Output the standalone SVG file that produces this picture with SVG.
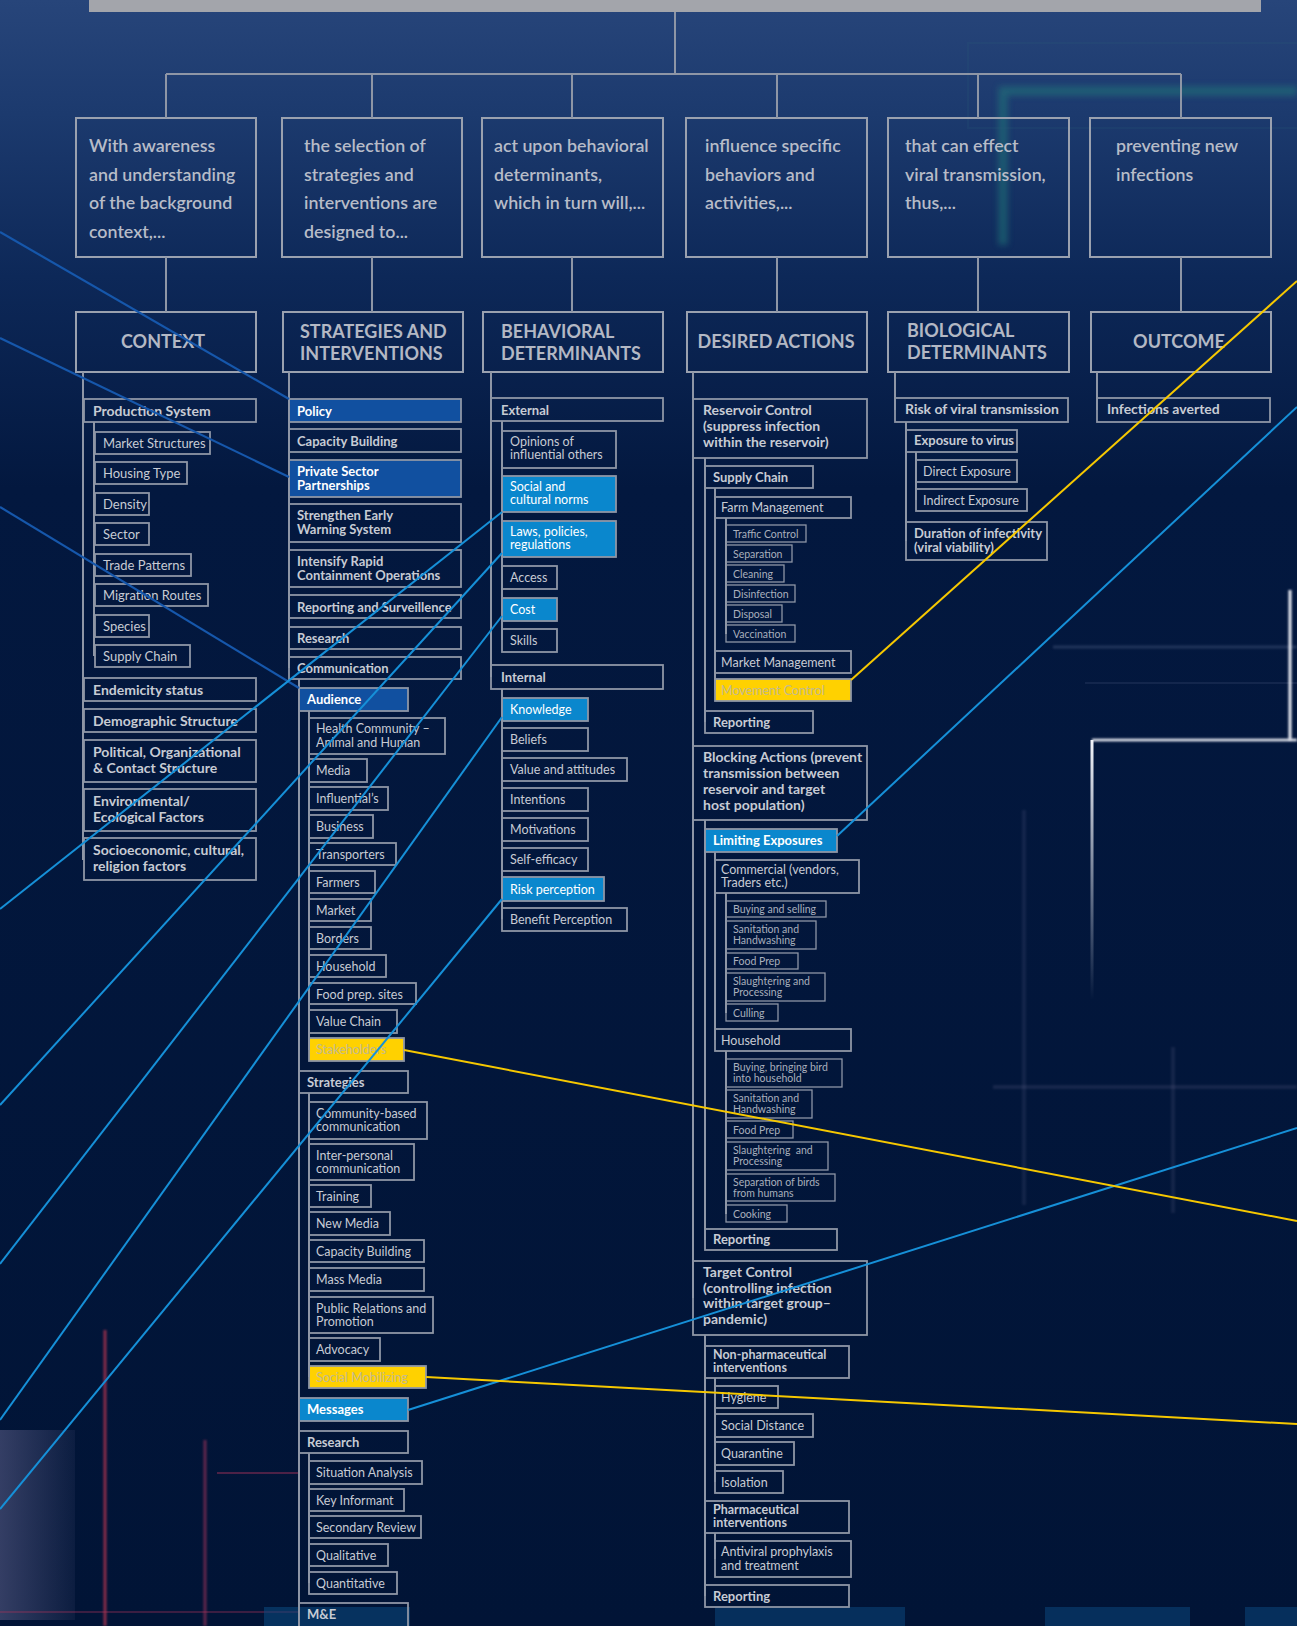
<svg xmlns="http://www.w3.org/2000/svg" width="1297" height="1626" viewBox="0 0 1297 1626">
<defs>
<linearGradient id="bg" x1="0" y1="0" x2="0" y2="1">
<stop offset="0" stop-color="#27457a"/>
<stop offset="0.07" stop-color="#1c3a6e"/>
<stop offset="0.17" stop-color="#0d2858"/>
<stop offset="0.3" stop-color="#03183f"/>
<stop offset="1" stop-color="#011436"/>
</linearGradient>
<linearGradient id="fadeV" x1="0" y1="0" x2="0" y2="1">
<stop offset="0" stop-color="#f2f4fa" stop-opacity="1"/>
<stop offset="1" stop-color="#f2f4fa" stop-opacity="0"/>
</linearGradient>
<linearGradient id="blockG" x1="0" y1="0" x2="1" y2="0">
<stop offset="0" stop-color="#4a5078" stop-opacity="0.7"/>
<stop offset="1" stop-color="#4a5078" stop-opacity="0.15"/>
</linearGradient>
<filter id="blur" filterUnits="userSpaceOnUse" x="0" y="0" width="1297" height="1626"><feGaussianBlur stdDeviation="3"/></filter>
<filter id="blur1" filterUnits="userSpaceOnUse" x="0" y="0" width="1297" height="1626"><feGaussianBlur stdDeviation="1.2"/></filter>
<style>
text{font-family:Lato,"Open Sans","DejaVu Sans",sans-serif;fill:#c7cbd4}
.hb{fill:none;stroke:#9aa1af;stroke-width:2}
.bx{fill:none;stroke:#8e96a6;stroke-width:1.8}
.sm{fill:none;stroke:#8e96a6;stroke-width:1.3}
.db{fill:#1150a0;stroke:#8e96a6;stroke-width:1.8}
.lb{fill:#0a87cd;stroke:#8e96a6;stroke-width:1.8}
.yl{fill:#ffd100;stroke:#8e96a6;stroke-width:1.8}
.hd{font-size:17.8px;font-weight:600;fill:#b7bcc8}
.ti{font-size:18px;font-weight:700;fill:#b3b8c4}
.b{font-size:14px;font-weight:700}
.b13{font-size:13px;font-weight:700}
.b12{font-size:12.5px;font-weight:700}
.r{font-size:13px}
.r12{font-size:12.5px}
.s{font-size:10.5px;fill:#a9afbc}
.w{fill:#ffffff}
.yt{fill:#c2b98f}
.tr{fill:none;stroke:#8e96a6;stroke-width:2}
.cd{stroke:#1657ab;stroke-width:2.2;fill:none}
.cl{stroke:#1690d8;stroke-width:2;fill:none}
.cy{stroke:#f6c800;stroke-width:2;fill:none}
</style>
</defs>

<g id="background">
<rect x="0" y="0" width="1297" height="1626" fill="url(#bg)"/>
<path d="M1297,91 H1003 V245" stroke="#237a7c" stroke-width="9" fill="none" opacity="0.55" filter="url(#blur)"/>
<path d="M1297,43 H968 V128 H1297" stroke="#2a5a7a" stroke-width="2" fill="none" opacity="0.2"/>
<path d="M1053,647 H1297" stroke="#5a6a90" stroke-width="3" opacity="0.35" filter="url(#blur1)"/>
<path d="M1085,683 H1297" stroke="#3a4a70" stroke-width="2" opacity="0.3"/>
<path d="M1290,590 V740" stroke="#eef0f8" stroke-width="3" filter="url(#blur1)"/>
<path d="M1297,740 H1092" stroke="#eef0f8" stroke-width="2.5" filter="url(#blur1)"/>
<rect x="1090.5" y="740" width="3" height="260" fill="url(#fadeV)"/>
<path d="M1024,810 V1205" stroke="#5a6088" stroke-width="4" opacity="0.2" filter="url(#blur1)"/>
<path d="M993,1087 H1297" stroke="#6a6a90" stroke-width="4" opacity="0.2" filter="url(#blur1)"/>
<path d="M1173,1047 V1213" stroke="#6a6a90" stroke-width="4" opacity="0.18" filter="url(#blur1)"/>
<rect x="0" y="1430" width="75" height="190" fill="url(#blockG)"/>
<path d="M105,1330 V1626" stroke="#d03a55" stroke-width="3" opacity="0.65" filter="url(#blur1)"/>
<path d="M205,1440 V1626" stroke="#b0365e" stroke-width="3" opacity="0.55" filter="url(#blur1)"/>
<path d="M217,1473 H300" stroke="#a8325a" stroke-width="2" opacity="0.45"/>
<path d="M0,1612 H300" stroke="#a8325a" stroke-width="2" opacity="0.35"/>
<rect x="264" y="1607" width="146" height="19" fill="#0b4a82" opacity="0.55"/>
<rect x="715" y="1607" width="190" height="19" fill="#0b4a82" opacity="0.5"/>
<rect x="1045" y="1607" width="145" height="19" fill="#0b4a82" opacity="0.5"/>
<rect x="1245" y="1607" width="52" height="19" fill="#0b4a82" opacity="0.5"/>
<rect x="89" y="0" width="1172" height="12" fill="#a3a5ab"/>
</g>

<g id="nodes">
<!-- header boxes -->
<g id="head-context"><rect class="hb" x="76" y="118" width="180" height="139"/><text class="hd" x="89" y="152">With awareness<tspan x="89" dy="28.5">and understanding</tspan><tspan x="89" dy="28.5">of the background</tspan><tspan x="89" dy="28.5">context,...</tspan></text></g>
<g id="head-strategies"><rect class="hb" x="282" y="118" width="180" height="139"/><text class="hd" x="304" y="152">the selection of<tspan x="304" dy="28.5">strategies and</tspan><tspan x="304" dy="28.5">interventions are</tspan><tspan x="304" dy="28.5">designed to...</tspan></text></g>
<g id="head-behavioral"><rect class="hb" x="482" y="118" width="181" height="139"/><text class="hd" x="494" y="152">act upon behavioral<tspan x="494" dy="28.5">determinants,</tspan><tspan x="494" dy="28.5">which in turn will,...</tspan></text></g>
<g id="head-actions"><rect class="hb" x="686" y="118" width="181" height="139"/><text class="hd" x="705" y="152">influence specific<tspan x="705" dy="28.5">behaviors and</tspan><tspan x="705" dy="28.5">activities,...</tspan></text></g>
<g id="head-biological"><rect class="hb" x="888" y="118" width="181" height="139"/><text class="hd" x="905" y="152">that can effect<tspan x="905" dy="28.5">viral transmission,</tspan><tspan x="905" dy="28.5">thus,...</tspan></text></g>
<g id="head-outcome"><rect class="hb" x="1090" y="118" width="181" height="139"/><text class="hd" x="1116" y="152">preventing new<tspan x="1116" dy="28.5">infections</tspan></text></g>

<!-- category boxes -->
<g id="cat-context"><rect class="hb" x="76" y="312" width="180" height="60"/><text class="ti" x="163" y="348" text-anchor="middle">CONTEXT</text></g>
<g id="cat-strategies"><rect class="hb" x="283" y="312" width="180" height="60"/><text class="ti" x="300" y="338">STRATEGIES AND<tspan x="300" dy="22">INTERVENTIONS</tspan></text></g>
<g id="cat-behavioral"><rect class="hb" x="483" y="312" width="180" height="60"/><text class="ti" x="501" y="338">BEHAVIORAL<tspan x="501" dy="22">DETERMINANTS</tspan></text></g>
<g id="cat-actions"><rect class="hb" x="687" y="312" width="180" height="60"/><text class="ti" x="776" y="348" text-anchor="middle">DESIRED ACTIONS</text></g>
<g id="cat-biological"><rect class="hb" x="888" y="312" width="181" height="60"/><text class="ti" x="907" y="337">BIOLOGICAL<tspan x="907" dy="22">DETERMINANTS</tspan></text></g>
<g id="cat-outcome"><rect class="hb" x="1091" y="312" width="180" height="60"/><text class="ti" x="1179" y="348" text-anchor="middle">OUTCOME</text></g>

<!-- column 1 -->
<g id="ctx-production"><rect class="bx" x="84" y="399" width="172" height="23"/><text class="b" x="93" y="415.5">Production System</text></g>
<g id="ctx-market"><rect class="bx" x="95" y="432" width="115" height="22"/><text class="r" x="103" y="447.5">Market Structures</text></g>
<g id="ctx-housing"><rect class="bx" x="95" y="462" width="92" height="22"/><text class="r" x="103" y="477.5">Housing Type</text></g>
<g id="ctx-density"><rect class="bx" x="95" y="493" width="54" height="22"/><text class="r" x="103" y="508.5">Density</text></g>
<g id="ctx-sector"><rect class="bx" x="95" y="523" width="54" height="22"/><text class="r" x="103" y="538.5">Sector</text></g>
<g id="ctx-trade"><rect class="bx" x="95" y="554" width="96" height="22"/><text class="r" x="103" y="569.5">Trade Patterns</text></g>
<g id="ctx-migration"><rect class="bx" x="95" y="584" width="113" height="22"/><text class="r" x="103" y="599.5">Migration Routes</text></g>
<g id="ctx-species"><rect class="bx" x="95" y="615" width="54" height="22"/><text class="r" x="103" y="630.5">Species</text></g>
<g id="ctx-supply"><rect class="bx" x="95" y="645" width="95" height="22"/><text class="r" x="103" y="660.5">Supply Chain</text></g>
<g id="ctx-endemicity"><rect class="bx" x="84" y="678" width="172" height="23"/><text class="b" x="93" y="694.5">Endemicity status</text></g>
<g id="ctx-demographic"><rect class="bx" x="84" y="709" width="172" height="23"/><text class="b" x="93" y="725.5">Demographic Structure</text></g>
<g id="ctx-political"><rect class="bx" x="84" y="740" width="172" height="42"/><text class="b" x="93" y="757">Political, Organizational<tspan x="93" dy="16">&amp; Contact Structure</tspan></text></g>
<g id="ctx-environmental"><rect class="bx" x="84" y="789" width="172" height="42"/><text class="b" x="93" y="806">Environmental/<tspan x="93" dy="16">Ecological Factors</tspan></text></g>
<g id="ctx-socio"><rect class="bx" x="84" y="838" width="172" height="42"/><text class="b" x="93" y="855">Socioeconomic, cultural,<tspan x="93" dy="16">religion factors</tspan></text></g>

<!-- column 2 -->
<g id="str-policy"><rect class="db" x="289" y="399" width="172" height="23"/><text class="b13 w" x="297" y="415.5">Policy</text></g>
<g id="str-capacity"><rect class="bx" x="289" y="429" width="172" height="23"/><text class="b13" x="297" y="445.5">Capacity Building</text></g>
<g id="str-private"><rect class="db" x="289" y="460" width="172" height="37"/><text class="b13 w" x="297" y="476">Private Sector<tspan x="297" dy="13.5">Partnerships</tspan></text></g>
<g id="str-ews"><rect class="bx" x="289" y="504" width="172" height="38"/><text class="b13" x="297" y="520">Strengthen Early<tspan x="297" dy="13.5">Warning System</tspan></text></g>
<g id="str-rapid"><rect class="bx" x="289" y="550" width="172" height="37"/><text class="b13" x="297" y="566">Intensify Rapid<tspan x="297" dy="13.5">Containment Operations</tspan></text></g>
<g id="str-reporting"><rect class="bx" x="289" y="595" width="172" height="23"/><text class="b13" x="297" y="611.5">Reporting and Surveillence</text></g>
<g id="str-research"><rect class="bx" x="289" y="627" width="172" height="22"/><text class="b13" x="297" y="642.5">Research</text></g>
<g id="str-communication"><rect class="bx" x="289" y="657" width="172" height="22"/><text class="b13" x="297" y="673">Communication</text></g>
<g id="str-audience"><rect class="db" x="299" y="688" width="109" height="23"/><text class="b13 w" x="307" y="704">Audience</text></g>
<g id="str-health"><rect class="bx" x="309" y="718" width="136" height="36"/><text class="r12" x="316" y="733">Health Community –<tspan x="316" dy="14">Animal and Human</tspan></text></g>
<g id="str-media"><rect class="bx" x="309" y="759" width="58" height="23"/><text class="r12" x="316" y="775">Media</text></g>
<g id="str-influentials"><rect class="bx" x="309" y="787" width="79" height="23"/><text class="r12" x="316" y="803">Influential’s</text></g>
<g id="str-business"><rect class="bx" x="309" y="815" width="64" height="23"/><text class="r12" x="316" y="831">Business</text></g>
<g id="str-transporters"><rect class="bx" x="309" y="843" width="87" height="22"/><text class="r12" x="316" y="858.5">Transporters</text></g>
<g id="str-farmers"><rect class="bx" x="309" y="871" width="66" height="22"/><text class="r12" x="316" y="886.5">Farmers</text></g>
<g id="str-market"><rect class="bx" x="309" y="899" width="62" height="22"/><text class="r12" x="316" y="914.5">Market</text></g>
<g id="str-borders"><rect class="bx" x="309" y="927" width="62" height="22"/><text class="r12" x="316" y="942.5">Borders</text></g>
<g id="str-household"><rect class="bx" x="309" y="955" width="77" height="22"/><text class="r12" x="316" y="970.5">Household</text></g>
<g id="str-foodprep"><rect class="bx" x="309" y="983" width="107" height="21"/><text class="r12" x="316" y="998.5">Food prep. sites</text></g>
<g id="str-valuechain"><rect class="bx" x="309" y="1010" width="88" height="23"/><text class="r12" x="316" y="1026">Value Chain</text></g>
<g id="str-stakeholders"><rect class="yl" x="309" y="1038" width="95" height="23"/><text class="r12 yt" x="316" y="1054">Stakeholders</text></g>
<g id="str-strategies"><rect class="bx" x="299" y="1071" width="109" height="22"/><text class="b13" x="307" y="1086.5">Strategies</text></g>
<g id="str-community"><rect class="bx" x="309" y="1102" width="118" height="37"/><text class="r12" x="316" y="1117.5">Community-based<tspan x="316" dy="13">communication</tspan></text></g>
<g id="str-interpersonal"><rect class="bx" x="309" y="1144" width="105" height="36"/><text class="r12" x="316" y="1160">Inter-personal<tspan x="316" dy="13">communication</tspan></text></g>
<g id="str-training"><rect class="bx" x="309" y="1185" width="62" height="22"/><text class="r12" x="316" y="1200.5">Training</text></g>
<g id="str-newmedia"><rect class="bx" x="309" y="1212" width="81" height="23"/><text class="r12" x="316" y="1228">New Media</text></g>
<g id="str-capacity2"><rect class="bx" x="309" y="1240" width="115" height="22"/><text class="r12" x="316" y="1255.5">Capacity Building</text></g>
<g id="str-massmedia"><rect class="bx" x="309" y="1268" width="115" height="23"/><text class="r12" x="316" y="1284">Mass Media</text></g>
<g id="str-pr"><rect class="bx" x="309" y="1297" width="124" height="36"/><text class="r12" x="316" y="1312.5">Public Relations and<tspan x="316" dy="13">Promotion</tspan></text></g>
<g id="str-advocacy"><rect class="bx" x="309" y="1338" width="71" height="23"/><text class="r12" x="316" y="1354">Advocacy</text></g>
<g id="str-socialmob"><rect class="yl" x="309" y="1366" width="117" height="22"/><text class="r12 yt" x="316" y="1381.5">Social Mobilizing</text></g>
<g id="str-messages"><rect class="lb" x="299" y="1398" width="109" height="23"/><text class="b13 w" x="307" y="1414">Messages</text></g>
<g id="str-research2"><rect class="bx" x="299" y="1431" width="109" height="22"/><text class="b13" x="307" y="1446.5">Research</text></g>
<g id="str-situation"><rect class="bx" x="309" y="1461" width="113" height="23"/><text class="r12" x="316" y="1477">Situation Analysis</text></g>
<g id="str-keyinformant"><rect class="bx" x="309" y="1489" width="95" height="22"/><text class="r12" x="316" y="1504.5">Key Informant</text></g>
<g id="str-secondary"><rect class="bx" x="309" y="1516" width="112" height="22"/><text class="r12" x="316" y="1531.5">Secondary Review</text></g>
<g id="str-qualitative"><rect class="bx" x="309" y="1544" width="79" height="22"/><text class="r12" x="316" y="1559.5">Qualitative</text></g>
<g id="str-quantitative"><rect class="bx" x="309" y="1572" width="88" height="22"/><text class="r12" x="316" y="1587.5">Quantitative</text></g>
<g id="str-me"><rect class="bx" x="299" y="1603" width="109" height="30"/><text class="b13" x="307" y="1619">M&amp;E</text></g>

<!-- column 3 -->
<g id="beh-external"><rect class="bx" x="491" y="398" width="172" height="23"/><text class="b13" x="501" y="414.5">External</text></g>
<g id="beh-opinions"><rect class="bx" x="502" y="431" width="114" height="37"/><text class="r12" x="510" y="446">Opinions of<tspan x="510" dy="13">influential others</tspan></text></g>
<g id="beh-social"><rect class="lb" x="502" y="476" width="114" height="36"/><text class="r12 w" x="510" y="491">Social and<tspan x="510" dy="13">cultural norms</tspan></text></g>
<g id="beh-laws"><rect class="lb" x="502" y="521" width="114" height="36"/><text class="r12 w" x="510" y="536">Laws, policies,<tspan x="510" dy="13">regulations</tspan></text></g>
<g id="beh-access"><rect class="bx" x="502" y="566" width="55" height="23"/><text class="r12" x="510" y="582">Access</text></g>
<g id="beh-cost"><rect class="lb" x="502" y="598" width="55" height="23"/><text class="r12 w" x="510" y="614">Cost</text></g>
<g id="beh-skills"><rect class="bx" x="502" y="629" width="55" height="23"/><text class="r12" x="510" y="645">Skills</text></g>
<g id="beh-internal"><rect class="bx" x="491" y="665" width="172" height="24"/><text class="b13" x="501" y="681.5">Internal</text></g>
<g id="beh-knowledge"><rect class="lb" x="502" y="698" width="86" height="23"/><text class="r12 w" x="510" y="714">Knowledge</text></g>
<g id="beh-beliefs"><rect class="bx" x="502" y="728" width="86" height="23"/><text class="r12" x="510" y="744">Beliefs</text></g>
<g id="beh-values"><rect class="bx" x="502" y="758" width="125" height="23"/><text class="r12" x="510" y="774">Value and attitudes</text></g>
<g id="beh-intentions"><rect class="bx" x="502" y="788" width="86" height="23"/><text class="r12" x="510" y="804">Intentions</text></g>
<g id="beh-motivations"><rect class="bx" x="502" y="818" width="86" height="23"/><text class="r12" x="510" y="834">Motivations</text></g>
<g id="beh-selfefficacy"><rect class="bx" x="502" y="848" width="86" height="23"/><text class="r12" x="510" y="864">Self-efficacy</text></g>
<g id="beh-risk"><rect class="lb" x="502" y="877" width="102" height="24"/><text class="r12 w" x="510" y="893.5">Risk perception</text></g>
<g id="beh-benefit"><rect class="bx" x="502" y="908" width="125" height="23"/><text class="r12" x="510" y="924">Benefit Perception</text></g>

<!-- column 4 -->
<g id="da-reservoir"><rect class="bx" x="693" y="399" width="174" height="59"/><text class="b" x="703" y="415">Reservoir Control<tspan x="703" dy="16">(suppress infection</tspan><tspan x="703" dy="16">within the reservoir)</tspan></text></g>
<g id="da-supply"><rect class="bx" x="705" y="466" width="108" height="22"/><text class="b13" x="713" y="481.5">Supply Chain</text></g>
<g id="da-farm"><rect class="bx" x="715" y="497" width="136" height="21"/><text class="r12" x="721" y="512">Farm Management</text></g>
<g id="da-traffic"><rect class="sm" x="726" y="525" width="80" height="17"/><text class="s" x="733" y="538">Traffic Control</text></g>
<g id="da-separation"><rect class="sm" x="726" y="545" width="66" height="17"/><text class="s" x="733" y="558">Separation</text></g>
<g id="da-cleaning"><rect class="sm" x="726" y="565" width="58" height="17"/><text class="s" x="733" y="578">Cleaning</text></g>
<g id="da-disinfection"><rect class="sm" x="726" y="585" width="69" height="17"/><text class="s" x="733" y="598">Disinfection</text></g>
<g id="da-disposal"><rect class="sm" x="726" y="605" width="56" height="17"/><text class="s" x="733" y="618">Disposal</text></g>
<g id="da-vaccination"><rect class="sm" x="726" y="625" width="69" height="17"/><text class="s" x="733" y="638">Vaccination</text></g>
<g id="da-market"><rect class="bx" x="715" y="651" width="136" height="22"/><text class="r12" x="721" y="666.5">Market Management</text></g>
<g id="da-movement"><rect class="yl" x="715" y="679" width="136" height="22"/><text class="r12 yt" x="721" y="694.5">Movement Control</text></g>
<g id="da-reporting1"><rect class="bx" x="705" y="711" width="108" height="22"/><text class="b13" x="713" y="726.5">Reporting</text></g>
<g id="da-blocking"><rect class="bx" x="693" y="746" width="174" height="74"/><text class="b" x="703" y="762">Blocking Actions (prevent<tspan x="703" dy="16">transmission between</tspan><tspan x="703" dy="16">reservoir and target</tspan><tspan x="703" dy="16">host population)</tspan></text></g>
<g id="da-limiting"><rect class="lb" x="705" y="829" width="132" height="23"/><text class="b13 w" x="713" y="845">Limiting Exposures</text></g>
<g id="da-commercial"><rect class="bx" x="715" y="860" width="144" height="33"/><text class="r12" x="721" y="874">Commercial (vendors,<tspan x="721" dy="13">Traders etc.)</tspan></text></g>
<g id="da-buying"><rect class="sm" x="726" y="901" width="100" height="16"/><text class="s" x="733" y="913">Buying and selling</text></g>
<g id="da-sanitation1"><rect class="sm" x="726" y="921" width="90" height="28"/><text class="s" x="733" y="933">Sanitation and<tspan x="733" dy="11">Handwashing</tspan></text></g>
<g id="da-foodprep1"><rect class="sm" x="726" y="953" width="72" height="16"/><text class="s" x="733" y="965">Food Prep</text></g>
<g id="da-slaughter1"><rect class="sm" x="726" y="973" width="99" height="28"/><text class="s" x="733" y="985">Slaughtering and<tspan x="733" dy="11">Processing</tspan></text></g>
<g id="da-culling"><rect class="sm" x="726" y="1004" width="52" height="17"/><text class="s" x="733" y="1016.5">Culling</text></g>
<g id="da-household"><rect class="bx" x="715" y="1029" width="136" height="22"/><text class="r12" x="721" y="1044.5">Household</text></g>
<g id="da-bringing"><rect class="sm" x="726" y="1059" width="116" height="28"/><text class="s" x="733" y="1071">Buying, bringing bird<tspan x="733" dy="11">into household</tspan></text></g>
<g id="da-sanitation2"><rect class="sm" x="726" y="1090" width="86" height="28"/><text class="s" x="733" y="1102">Sanitation and<tspan x="733" dy="11">Handwashing</tspan></text></g>
<g id="da-foodprep2"><rect class="sm" x="726" y="1121" width="67" height="17"/><text class="s" x="733" y="1133.5">Food Prep</text></g>
<g id="da-slaughter2"><rect class="sm" x="726" y="1142" width="102" height="28"/><text class="s" x="733" y="1154" xml:space="preserve">Slaughtering  and<tspan x="733" dy="11">Processing</tspan></text></g>
<g id="da-separation2"><rect class="sm" x="726" y="1174" width="109" height="27"/><text class="s" x="733" y="1186">Separation of birds<tspan x="733" dy="11">from humans</tspan></text></g>
<g id="da-cooking"><rect class="sm" x="726" y="1205" width="61" height="17"/><text class="s" x="733" y="1217.5">Cooking</text></g>
<g id="da-reporting2"><rect class="bx" x="705" y="1229" width="132" height="21"/><text class="b13" x="713" y="1244">Reporting</text></g>
<g id="da-target"><rect class="bx" x="693" y="1261" width="174" height="74"/><text class="b" x="703" y="1277">Target Control<tspan x="703" dy="15.7">(controlling infection</tspan><tspan x="703" dy="15.7">within target group–</tspan><tspan x="703" dy="15.7">pandemic)</tspan></text></g>
<g id="da-nonpharma"><rect class="bx" x="705" y="1346" width="144" height="32"/><text class="b12" x="713" y="1359">Non-pharmaceutical<tspan x="713" dy="13">interventions</tspan></text></g>
<g id="da-hygiene"><rect class="bx" x="715" y="1386" width="63" height="22"/><text class="r12" x="721" y="1401.5">Hygiene</text></g>
<g id="da-socialdistance"><rect class="bx" x="715" y="1414" width="98" height="23"/><text class="r12" x="721" y="1430">Social Distance</text></g>
<g id="da-quarantine"><rect class="bx" x="715" y="1442" width="79" height="23"/><text class="r12" x="721" y="1458">Quarantine</text></g>
<g id="da-isolation"><rect class="bx" x="715" y="1471" width="68" height="22"/><text class="r12" x="721" y="1486.5">Isolation</text></g>
<g id="da-pharma"><rect class="bx" x="705" y="1501" width="144" height="32"/><text class="b12" x="713" y="1514">Pharmaceutical<tspan x="713" dy="13">interventions</tspan></text></g>
<g id="da-antiviral"><rect class="bx" x="715" y="1541" width="136" height="36"/><text class="r12" x="721" y="1556">Antiviral prophylaxis<tspan x="721" dy="14">and treatment</tspan></text></g>
<g id="da-reporting3"><rect class="bx" x="705" y="1585" width="144" height="22"/><text class="b13" x="713" y="1600.5">Reporting</text></g>

<!-- column 5 -->
<g id="bio-risk"><rect class="bx" x="895" y="398" width="173" height="24"/><text class="b" x="905" y="414">Risk of viral transmission</text></g>
<g id="bio-exposure"><rect class="bx" x="906" y="430" width="111" height="22"/><text class="b13" x="914" y="445">Exposure to virus</text></g>
<g id="bio-direct"><rect class="bx" x="916" y="460" width="101" height="22"/><text class="r12" x="923" y="475.5">Direct Exposure</text></g>
<g id="bio-indirect"><rect class="bx" x="916" y="489" width="111" height="22"/><text class="r12" x="923" y="504.5">Indirect Exposure</text></g>
<g id="bio-duration"><rect class="bx" x="906" y="522" width="141" height="38"/><text class="b13" x="914" y="537.5">Duration of infectivity<tspan x="914" dy="14">(viral viability)</tspan></text></g>

<!-- column 6 -->
<g id="out-infections"><rect class="bx" x="1097" y="398" width="173" height="24"/><text class="b" x="1107" y="414">Infections averted</text></g>
</g>

<g id="connectors">
<g id="tree-lines">
<path class="tr" d="M675,12 V74 M166,74 H1181 M166,74 V118 M372,74 V118 M572,74 V118 M777,74 V118 M978,74 V118 M1181,74 V118"/>
<path class="tr" d="M166,257 V312 M372,257 V312 M572,257 V312 M777,257 V312 M978,257 V312 M1181,257 V312"/>
<path class="tr" d="M83,372 V860 M94,422 V656"/>
<path class="tr" d="M289,372 V668 M299,679 V1626 M309,711 V1050 M309,1093 V1377 M309,1453 V1583"/>
<path class="tr" d="M491,372 V677 M502,421 V640 M502,689 V919"/>
<path class="tr" d="M693,372 V1298 M705,458 V722 M715,488 V690 M726,518 V634 M705,820 V1240 M715,852 V1040 M726,893 V1013 M726,1051 V1214 M705,1335 V1596 M715,1378 V1482 M715,1533 V1559"/>
<path class="tr" d="M895,372 V410 M906,422 V541 M916,452 V500"/>
<path class="tr" d="M1097,372 V410"/>
</g>
<g id="highlight-lines">
<line class="cd" x1="0" y1="232" x2="289" y2="399"/>
<line class="cd" x1="0" y1="338" x2="289" y2="477"/>
<line class="cd" x1="0" y1="507" x2="299" y2="688"/>
<line class="cl" x1="0" y1="909" x2="502" y2="512"/>
<line class="cl" x1="0" y1="1105" x2="502" y2="553"/>
<line class="cl" x1="0" y1="1264" x2="502" y2="616"/>
<line class="cl" x1="0" y1="1420" x2="502" y2="717"/>
<line class="cl" x1="0" y1="1509" x2="502" y2="899"/>
<line class="cl" x1="408" y1="1410" x2="1297" y2="1128"/>
<line class="cl" x1="837" y1="836" x2="1297" y2="407"/>
<line class="cy" x1="851" y1="680" x2="1297" y2="281"/>
<line class="cy" x1="404" y1="1050" x2="1297" y2="1221"/>
<line class="cy" x1="426" y1="1377" x2="1297" y2="1424"/>
</g>
</g>
</svg>
